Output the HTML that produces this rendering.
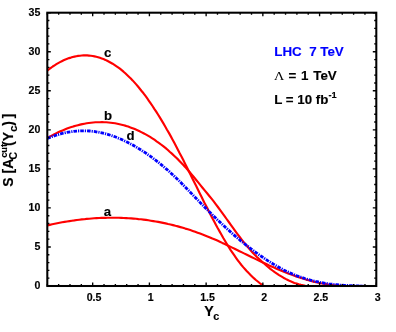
<!DOCTYPE html>
<html><head><meta charset="utf-8"><title>plot</title>
<style>
html,body{margin:0;padding:0;background:#fff;}
svg{display:block;}
text{font-family:"Liberation Sans",sans-serif;font-weight:bold;fill:#000;stroke:#000;stroke-width:0.15px;}
.ser{font-family:"Liberation Serif",serif;font-weight:normal;stroke:none;}
</style></head><body>
<svg style="will-change:transform" width="396" height="332" viewBox="0 0 396 332">
<rect width="396" height="332" fill="#fff"/>
<defs><clipPath id="cp"><rect x="47.3" y="12.7" width="329.00" height="273.50"/></clipPath></defs>
<g fill="none" stroke-linejoin="round" stroke-linecap="butt" clip-path="url(#cp)">
<path d="M47.3,225.4 L49.8,224.9 L52.2,224.3 L54.7,223.8 L57.2,223.3 L59.6,222.8 L62.1,222.3 L64.6,221.9 L67.0,221.5 L69.5,221.1 L71.9,220.7 L74.4,220.4 L76.9,220.0 L79.3,219.7 L81.8,219.4 L84.3,219.2 L86.7,218.9 L89.2,218.7 L91.7,218.5 L94.1,218.3 L96.6,218.1 L99.1,218.0 L101.5,217.9 L104.0,217.8 L106.5,217.8 L108.9,217.7 L111.4,217.7 L113.8,217.7 L116.3,217.7 L118.8,217.8 L121.2,217.9 L123.7,218.0 L126.2,218.1 L128.6,218.2 L131.1,218.4 L133.6,218.6 L136.0,218.8 L138.5,219.1 L141.0,219.3 L143.4,219.6 L145.9,219.9 L148.4,220.3 L150.8,220.7 L153.3,221.1 L155.7,221.5 L158.2,221.9 L160.7,222.4 L163.1,222.9 L165.6,223.4 L168.1,224.0 L170.5,224.5 L173.0,225.1 L175.5,225.8 L177.9,226.4 L180.4,227.1 L182.9,227.8 L185.3,228.6 L187.8,229.3 L190.3,230.1 L192.7,230.9 L195.2,231.8 L197.6,232.7 L200.1,233.6 L202.6,234.5 L205.0,235.4 L207.5,236.4 L210.0,237.4 L212.4,238.5 L214.9,239.5 L217.4,240.6 L219.8,241.7 L222.3,242.9 L224.8,244.0 L227.2,245.2 L229.7,246.4 L232.2,247.6 L234.6,248.8 L237.1,250.0 L239.5,251.2 L242.0,252.4 L244.5,253.6 L246.9,254.8 L249.4,256.0 L251.9,257.2 L254.3,258.4 L256.8,259.6 L259.3,260.8 L261.7,261.9 L264.2,263.1 L266.7,264.2 L269.1,265.4 L271.6,266.5 L274.1,267.6 L276.5,268.7 L279.0,269.7 L281.4,270.7 L283.9,271.7 L286.4,272.7 L288.8,273.7 L291.3,274.6 L293.8,275.5 L296.2,276.4 L298.7,277.2 L301.2,278.0 L303.6,278.8 L306.1,279.6 L308.6,280.3 L311.0,280.9 L313.5,281.6 L316.0,282.2 L318.4,282.7 L320.9,283.2 L323.3,283.7 L325.8,284.1 L328.3,284.5 L330.7,284.8 L333.2,285.1 L335.7,285.3 L338.1,285.5 L340.6,285.7" stroke="#ff0000" stroke-width="2.15"/>
<path d="M47.3,138.0 L49.5,136.8 L51.7,135.6 L53.9,134.5 L56.0,133.4 L58.2,132.3 L60.4,131.3 L62.6,130.4 L64.8,129.5 L67.0,128.6 L69.2,127.8 L71.4,127.1 L73.5,126.4 L75.7,125.8 L77.9,125.2 L80.1,124.6 L82.3,124.1 L84.5,123.7 L86.7,123.3 L88.8,123.0 L91.0,122.7 L93.2,122.5 L95.4,122.3 L97.6,122.2 L99.8,122.2 L102.0,122.1 L104.2,122.2 L106.3,122.3 L108.5,122.5 L110.7,122.7 L112.9,123.0 L115.1,123.3 L117.3,123.7 L119.5,124.2 L121.6,124.7 L123.8,125.3 L126.0,125.9 L128.2,126.6 L130.4,127.4 L132.6,128.2 L134.8,129.1 L136.9,130.0 L139.1,131.0 L141.3,132.1 L143.5,133.2 L145.7,134.4 L147.9,135.6 L150.1,136.9 L152.3,138.3 L154.4,139.7 L156.6,141.3 L158.8,142.8 L161.0,144.5 L163.2,146.2 L165.4,147.9 L167.6,149.8 L169.7,151.7 L171.9,153.6 L174.1,155.7 L176.3,157.8 L178.5,159.9 L180.7,162.2 L182.9,164.5 L185.1,166.9 L187.2,169.3 L189.4,171.8 L191.6,174.4 L193.8,177.0 L196.0,179.7 L198.2,182.4 L200.4,185.1 L202.5,187.7 L204.7,190.4 L206.9,193.0 L209.1,195.7 L211.3,198.4 L213.5,201.2 L215.7,204.1 L217.9,207.0 L220.0,209.9 L222.2,212.9 L224.4,215.9 L226.6,219.0 L228.8,222.0 L231.0,225.1 L233.2,228.1 L235.3,231.1 L237.5,234.1 L239.7,237.0 L241.9,239.8 L244.1,242.6 L246.3,245.3 L248.5,247.8 L250.6,250.3 L252.8,252.7 L255.0,255.0 L257.2,257.2 L259.4,259.3 L261.6,261.3 L263.8,263.3 L266.0,265.2 L268.1,267.0 L270.3,268.8 L272.5,270.5 L274.7,272.1 L276.9,273.6 L279.1,275.1 L281.3,276.4 L283.4,277.7 L285.6,278.9 L287.8,280.0 L290.0,281.1 L292.2,282.0 L294.4,282.9 L296.6,283.6 L298.8,284.3 L300.9,284.9 L303.1,285.3 L305.3,285.7 L307.5,286.0" stroke="#ff0000" stroke-width="2.15"/>
<path d="M47.3,70.6 L49.1,69.2 L50.9,67.8 L52.7,66.5 L54.6,65.3 L56.4,64.2 L58.2,63.1 L60.0,62.1 L61.8,61.2 L63.6,60.3 L65.4,59.5 L67.3,58.8 L69.1,58.1 L70.9,57.6 L72.7,57.0 L74.5,56.6 L76.3,56.2 L78.1,55.9 L80.0,55.7 L81.8,55.5 L83.6,55.4 L85.4,55.4 L87.2,55.4 L89.0,55.6 L90.8,55.8 L92.7,56.0 L94.5,56.4 L96.3,56.8 L98.1,57.2 L99.9,57.8 L101.7,58.4 L103.5,59.1 L105.4,59.9 L107.2,60.8 L109.0,61.7 L110.8,62.7 L112.6,63.7 L114.4,64.9 L116.2,66.1 L118.1,67.4 L119.9,68.7 L121.7,70.2 L123.5,71.7 L125.3,73.3 L127.1,75.0 L128.9,76.7 L130.8,78.5 L132.6,80.4 L134.4,82.4 L136.2,84.4 L138.0,86.5 L139.8,88.7 L141.6,91.0 L143.5,93.3 L145.3,95.7 L147.1,98.2 L148.9,100.8 L150.7,103.4 L152.5,106.0 L154.3,108.8 L156.2,111.6 L158.0,114.5 L159.8,117.4 L161.6,120.4 L163.4,123.4 L165.2,126.5 L167.0,129.7 L168.9,132.9 L170.7,136.1 L172.5,139.4 L174.3,142.8 L176.1,146.2 L177.9,149.7 L179.7,153.2 L181.6,156.7 L183.4,160.3 L185.2,163.9 L187.0,167.5 L188.8,171.2 L190.6,174.8 L192.4,178.5 L194.3,182.2 L196.1,185.8 L197.9,189.5 L199.7,193.2 L201.5,196.8 L203.3,200.4 L205.1,204.1 L207.0,207.6 L208.8,211.2 L210.6,214.7 L212.4,218.2 L214.2,221.6 L216.0,225.0 L217.8,228.3 L219.7,231.6 L221.5,234.8 L223.3,238.0 L225.1,241.0 L226.9,244.0 L228.7,247.0 L230.5,249.8 L232.4,252.6 L234.2,255.2 L236.0,257.8 L237.8,260.3 L239.6,262.7 L241.4,265.0 L243.2,267.1 L245.1,269.2 L246.9,271.2 L248.7,273.1 L250.5,274.9 L252.3,276.7 L254.1,278.4 L255.9,280.0 L257.8,281.5 L259.6,283.0 L261.4,284.4 L263.2,285.8" stroke="#ff0000" stroke-width="2.15"/>
<path d="M47.3,138.5 L50.0,137.4 L52.6,136.4 L55.3,135.5 L57.9,134.6 L60.6,133.9 L63.2,133.2 L65.9,132.6 L68.5,132.1 L71.2,131.7 L73.9,131.3 L76.5,131.1 L79.2,130.9 L81.8,130.8 L84.5,130.8 L87.1,130.9 L89.8,131.0 L92.4,131.3 L95.1,131.6 L97.8,132.1 L100.4,132.6 L103.1,133.1 L105.7,133.8 L108.4,134.6 L111.0,135.4 L113.7,136.3 L116.3,137.3 L119.0,138.4 L121.7,139.5 L124.3,140.8 L127.0,142.1 L129.6,143.4 L132.3,144.8 L134.9,146.3 L137.6,147.9 L140.2,149.5 L142.9,151.2 L145.6,152.9 L148.2,154.8 L150.9,156.6 L153.5,158.6 L156.2,160.6 L158.8,162.7 L161.5,164.9 L164.1,167.1 L166.8,169.4 L169.5,171.7 L172.1,174.2 L174.8,176.7 L177.4,179.2 L180.1,181.8 L182.7,184.5 L185.4,187.2 L188.0,189.9 L190.7,192.7 L193.4,195.5 L196.0,198.2 L198.7,201.0 L201.3,203.7 L204.0,206.4 L206.6,209.1 L209.3,211.8 L211.9,214.4 L214.6,217.0 L217.2,219.6 L219.9,222.1 L222.6,224.6 L225.2,227.1 L227.9,229.5 L230.5,231.9 L233.2,234.3 L235.8,236.6 L238.5,238.8 L241.1,241.1 L243.8,243.2 L246.5,245.3 L249.1,247.4 L251.8,249.4 L254.4,251.4 L257.1,253.3 L259.7,255.2 L262.4,257.0 L265.0,258.8 L267.7,260.6 L270.4,262.3 L273.0,263.9 L275.7,265.5 L278.3,267.0 L281.0,268.5 L283.6,269.9 L286.3,271.2 L288.9,272.4 L291.6,273.6 L294.3,274.7 L296.9,275.8 L299.6,276.7 L302.2,277.6 L304.9,278.5 L307.5,279.3 L310.2,280.0 L312.8,280.7 L315.5,281.4 L318.2,281.9 L320.8,282.5 L323.5,283.0 L326.1,283.4 L328.8,283.8 L331.4,284.1 L334.1,284.5 L336.7,284.7 L339.4,285.0 L342.1,285.2 L344.7,285.3 L347.4,285.5 L350.0,285.6 L352.7,285.7 L355.3,285.8 L358.0,285.8 L360.6,285.8 L363.3,285.8" stroke="#0000ff" stroke-width="2.8" stroke-dasharray="3.6 1.0 1.2 1.0"/>
</g>
<path d="M47.30,286.00v-2.1M47.30,12.70v2.1M58.64,286.00v-2.1M58.64,12.70v2.1M69.99,286.00v-2.1M69.99,12.70v2.1M81.33,286.00v-2.1M81.33,12.70v2.1M92.68,286.00v-3.5M92.68,12.70v3.5M104.02,286.00v-2.1M104.02,12.70v2.1M115.37,286.00v-2.1M115.37,12.70v2.1M126.71,286.00v-2.1M126.71,12.70v2.1M138.06,286.00v-2.1M138.06,12.70v2.1M149.40,286.00v-3.5M149.40,12.70v3.5M160.75,286.00v-2.1M160.75,12.70v2.1M172.09,286.00v-2.1M172.09,12.70v2.1M183.44,286.00v-2.1M183.44,12.70v2.1M194.78,286.00v-2.1M194.78,12.70v2.1M206.13,286.00v-3.5M206.13,12.70v3.5M217.47,286.00v-2.1M217.47,12.70v2.1M228.82,286.00v-2.1M228.82,12.70v2.1M240.16,286.00v-2.1M240.16,12.70v2.1M251.51,286.00v-2.1M251.51,12.70v2.1M262.85,286.00v-3.5M262.85,12.70v3.5M274.20,286.00v-2.1M274.20,12.70v2.1M285.54,286.00v-2.1M285.54,12.70v2.1M296.89,286.00v-2.1M296.89,12.70v2.1M308.23,286.00v-2.1M308.23,12.70v2.1M319.58,286.00v-3.5M319.58,12.70v3.5M330.92,286.00v-2.1M330.92,12.70v2.1M342.27,286.00v-2.1M342.27,12.70v2.1M353.61,286.00v-2.1M353.61,12.70v2.1M364.96,286.00v-2.1M364.96,12.70v2.1M376.30,286.00v-3.5M376.30,12.70v3.5M47.30,286.00h3.5M376.30,286.00h-3.5M47.30,278.19h2.1M376.30,278.19h-2.1M47.30,270.38h2.1M376.30,270.38h-2.1M47.30,262.57h2.1M376.30,262.57h-2.1M47.30,254.77h2.1M376.30,254.77h-2.1M47.30,246.96h3.5M376.30,246.96h-3.5M47.30,239.15h2.1M376.30,239.15h-2.1M47.30,231.34h2.1M376.30,231.34h-2.1M47.30,223.53h2.1M376.30,223.53h-2.1M47.30,215.72h2.1M376.30,215.72h-2.1M47.30,207.91h3.5M376.30,207.91h-3.5M47.30,200.11h2.1M376.30,200.11h-2.1M47.30,192.30h2.1M376.30,192.30h-2.1M47.30,184.49h2.1M376.30,184.49h-2.1M47.30,176.68h2.1M376.30,176.68h-2.1M47.30,168.87h3.5M376.30,168.87h-3.5M47.30,161.06h2.1M376.30,161.06h-2.1M47.30,153.25h2.1M376.30,153.25h-2.1M47.30,145.45h2.1M376.30,145.45h-2.1M47.30,137.64h2.1M376.30,137.64h-2.1M47.30,129.83h3.5M376.30,129.83h-3.5M47.30,122.02h2.1M376.30,122.02h-2.1M47.30,114.21h2.1M376.30,114.21h-2.1M47.30,106.40h2.1M376.30,106.40h-2.1M47.30,98.59h2.1M376.30,98.59h-2.1M47.30,90.79h3.5M376.30,90.79h-3.5M47.30,82.98h2.1M376.30,82.98h-2.1M47.30,75.17h2.1M376.30,75.17h-2.1M47.30,67.36h2.1M376.30,67.36h-2.1M47.30,59.55h2.1M376.30,59.55h-2.1M47.30,51.74h3.5M376.30,51.74h-3.5M47.30,43.93h2.1M376.30,43.93h-2.1M47.30,36.13h2.1M376.30,36.13h-2.1M47.30,28.32h2.1M376.30,28.32h-2.1M47.30,20.51h2.1M376.30,20.51h-2.1M47.30,12.70h3.5M376.30,12.70h-3.5" stroke="#000" stroke-width="1.35" fill="none"/>
<rect x="47.3" y="12.7" width="329.00" height="273.30" fill="none" stroke="#000" stroke-width="2.05"/>
<text x="94.0" y="300.6" font-size="10.6" text-anchor="middle">0.5</text>
<text x="150.8" y="300.6" font-size="10.6" text-anchor="middle">1</text>
<text x="207.5" y="300.6" font-size="10.6" text-anchor="middle">1.5</text>
<text x="264.2" y="300.6" font-size="10.6" text-anchor="middle">2</text>
<text x="320.9" y="300.6" font-size="10.6" text-anchor="middle">2.5</text>
<text x="377.7" y="300.6" font-size="10.6" text-anchor="middle">3</text>
<text x="40.4" y="289.4" font-size="10.6" text-anchor="end">0</text>
<text x="40.4" y="250.4" font-size="10.6" text-anchor="end">5</text>
<text x="40.4" y="211.4" font-size="10.6" text-anchor="end">10</text>
<text x="40.4" y="172.3" font-size="10.6" text-anchor="end">15</text>
<text x="40.4" y="133.3" font-size="10.6" text-anchor="end">20</text>
<text x="40.4" y="94.2" font-size="10.6" text-anchor="end">25</text>
<text x="40.4" y="55.2" font-size="10.6" text-anchor="end">30</text>
<text x="40.4" y="16.1" font-size="10.6" text-anchor="end">35</text>
<text x="104.0" y="57.3" font-size="13.2">c</text>
<text x="104.1" y="119.5" font-size="13.2">b</text>
<text x="126.6" y="139.6" font-size="13.2">d</text>
<text x="103.8" y="216.0" font-size="13.2">a</text>
<text x="274.3" y="56" font-size="13.35" style="fill:#0000ff;stroke:#0000ff" xml:space="preserve">LHC  7 TeV</text>
<text transform="translate(273.9,79.7) scale(1.08,1)" font-size="13.2" class="ser">Λ</text>
<text x="288.6" y="79.7" font-size="13.35" word-spacing="1.0">= 1 TeV</text>
<text x="274.3" y="103.9" font-size="13.3">L = 10 fb<tspan font-size="9.3" dy="-5.8">-1</tspan></text>
<text x="204.2" y="316.4" font-size="14.2">Y</text><text x="213.2" y="320.2" font-size="10.8">c</text>
<g transform="translate(13.3,186.2) rotate(-90)"><text x="-0.5" y="0" font-size="14.0">S [A</text><text x="26.8" y="4.0" font-size="10.5">C</text><text x="28.4" y="-6.3" font-size="9.3">cut</text><text x="40.2" y="0" font-size="14.0">(Y</text><text x="54.3" y="4.0" font-size="11.6">c</text><text x="60.5" y="0" font-size="14.0">)</text><text x="68.0" y="0" font-size="14.0">]</text></g>
</svg></body></html>
